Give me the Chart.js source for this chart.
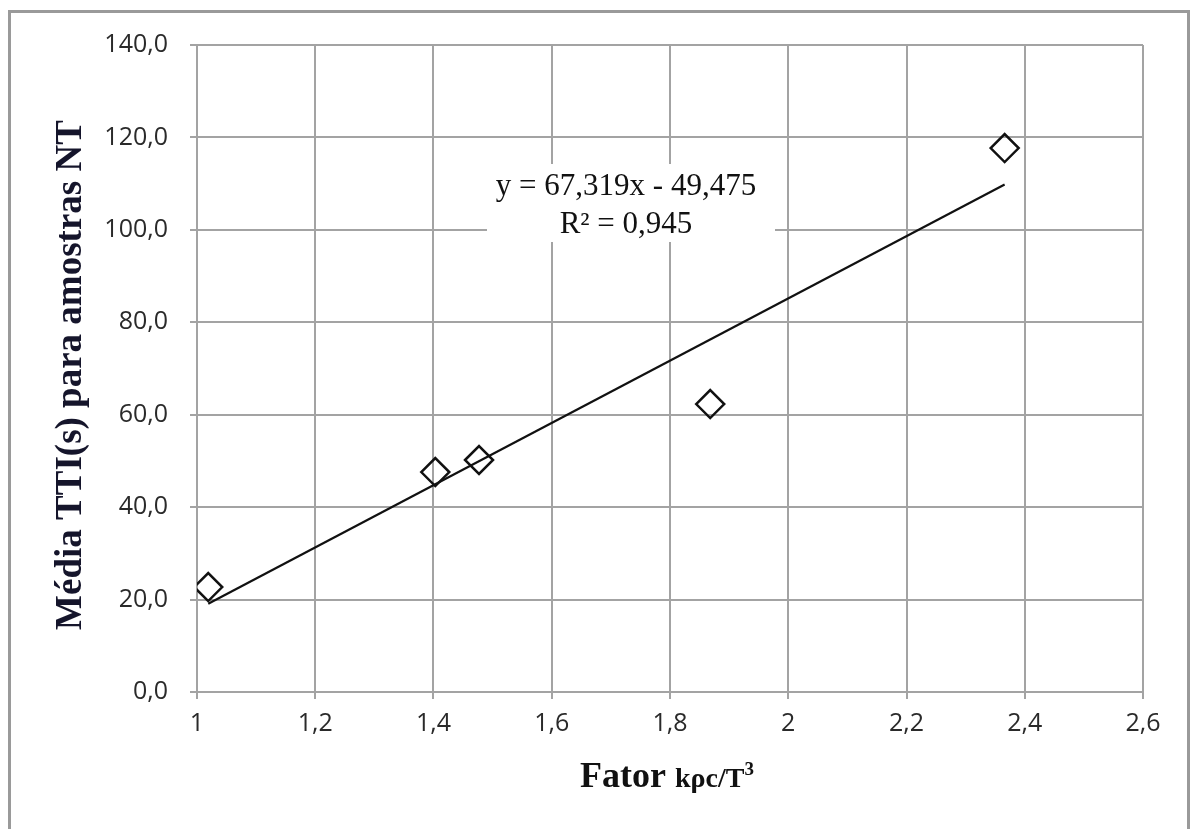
<!DOCTYPE html>
<html>
<head>
<meta charset="utf-8">
<script src="https://cdn.jsdelivr.net/npm/chart.js@4.4.1/dist/chart.umd.min.js"></script>
<style>
  html, body { margin: 0; padding: 0; background: #fff; }
  #wrap { position: absolute; left: 0; top: 0; width: 1196px; height: 829px; }
</style>
</head>
<body>
<div id="wrap"><canvas id="scatterChart" width="1196" height="829"></canvas></div>
<script>
// values
const fatorK = [1.019, 1.403, 1.477, 1.868, 2.366];
const mediaTTI = [22.7, 47.6, 50.2, 62.3, 117.7];
const trendX = [1.019, 2.366];
const trendY = [19.1, 109.8];
const trendText = ["y = 67,319x - 49,475", "R² = 0,945"];

const gridColor = "#a3a3a3";
const serif = "'Liberation Serif', 'DejaVu Serif', serif";

const frameAndTitles = {
  id: "frameAndTitles",
  beforeDraw(chart) {
    const { ctx } = chart;
    ctx.save();
    ctx.strokeStyle = "#9a9a9a";
    ctx.lineWidth = 3;
    ctx.strokeRect(9.5, 11.5, 1179, 840);
    ctx.restore();
  },
  beforeDatasetsDraw(chart) {
    const { ctx } = chart;
    // white label box for the trendline equation
    ctx.save();
    ctx.fillStyle = "#fff";
    ctx.fillRect(487, 164, 288, 78);
    ctx.fillStyle = "#111";
    ctx.font = `31px ${serif}`;
    ctx.textAlign = "center";
    ctx.textBaseline = "middle";
    ctx.fillText(trendText[0], 626, 187);
    ctx.fillText(trendText[1], 626, 225);
    ctx.restore();
  },
  afterDraw(chart) {
    const { ctx } = chart;
    ctx.save();
    // y axis title
    ctx.translate(71, 375);
    ctx.rotate(-Math.PI / 2);
    ctx.fillStyle = "#15152b";
    ctx.font = `bold 37px ${serif}`;
    ctx.textAlign = "center";
    ctx.textBaseline = "middle";
    ctx.fillText("Média TTI(s) para amostras NT", 0, 0);
    ctx.restore();

    // x axis title: "Fator kρc/T³"
    ctx.save();
    ctx.fillStyle = "#111";
    ctx.textBaseline = "alphabetic";
    const base = 787;
    ctx.font = `bold 36px ${serif}`;
    const w1 = ctx.measureText("Fator ").width;
    ctx.font = `bold 28px ${serif}`;
    const w2 = ctx.measureText("kρc/T").width;
    ctx.font = `bold 19px ${serif}`;
    const w3 = ctx.measureText("3").width;
    let start = 667 - (w1 + w2 + w3) / 2;
    ctx.font = `bold 36px ${serif}`;
    ctx.fillText("Fator ", start, base);
    ctx.font = `bold 28px ${serif}`;
    ctx.fillText("kρc/T", start + w1, base);
    ctx.font = `bold 19px ${serif}`;
    ctx.fillText("3", start + w1 + w2, base - 12);
    ctx.restore();
  },
};

const tickFont = { family: "'Open Sans', 'Liberation Sans', sans-serif", size: 25 };

new Chart(document.getElementById("scatterChart").getContext("2d"), {
  type: "scatter",
  plugins: [frameAndTitles],
  data: {
    datasets: [
      {
        label: "Média TTI",
        data: fatorK.map((v, i) => ({ x: v, y: mediaTTI[i] })),
        pointStyle: "rectRot",
        pointRadius: 14,
        pointHoverRadius: 14,
        pointBorderWidth: 2.5,
        borderColor: "#111",
        backgroundColor: "rgba(0,0,0,0)",
        order: 1,
      },
      {
        type: "line",
        label: "Linear",
        data: trendX.map((v, i) => ({ x: v, y: trendY[i] })),
        borderColor: "#111",
        borderWidth: 2.2,
        pointRadius: 0,
        fill: false,
        order: 2,
      },
    ],
  },
  options: {
    responsive: false,
    animation: false,
    events: [],
    layout: { padding: { left: 0, top: 45, right: 53, bottom: 0 } },
    plugins: {
      legend: { display: false },
      tooltip: { enabled: false },
    },
    scales: {
      x: {
        type: "linear",
        min: 1,
        max: 2.6,
        afterFit(scale) { scale.height = 137; },
        ticks: {
          stepSize: 0.2,
          color: "#2a2a2a",
          font: tickFont,
          padding: 10,
          maxRotation: 0,
          callback: (v) => String(Math.round(v * 10) / 10).replace(".", ","),
        },
        grid: { color: gridColor, lineWidth: 2, tickLength: 7 },
        border: { color: gridColor, width: 2 },
      },
      y: {
        min: 0,
        max: 140,
        afterFit(scale) { scale.width = 197; },
        ticks: {
          stepSize: 20,
          color: "#2a2a2a",
          font: tickFont,
          padding: 22,
          callback: (v) => v.toFixed(1).replace(".", ","),
        },
        grid: { color: gridColor, lineWidth: 2, tickLength: 7 },
        border: { color: gridColor, width: 2 },
      },
    },
  },
});
</script>
</body>
</html>
